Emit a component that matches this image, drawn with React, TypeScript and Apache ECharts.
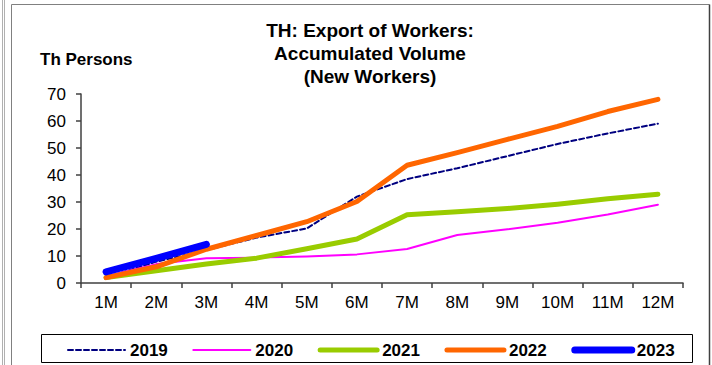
import React, { useEffect, useRef } from "react";
import * as echarts from "echarts";

const categories = ["1M", "2M", "3M", "4M", "5M", "6M", "7M", "8M", "9M", "10M", "11M", "12M"];
const s2019 = [2, 7.9, 12.2, 16.8, 20.2, 32, 38.5, 42.5, 47, 51.5, 55.4, 59];
const s2020 = [2.5, 7, 9.2, 9.4, 9.8, 10.6, 12.6, 17.8, 19.9, 22.3, 25.4, 29];
const s2021 = [2, 4.5, 7, 9.2, 12.7, 16.3, 25.3, 26.4, 27.6, 29.2, 31.2, 32.9];
const s2022 = [2, 6, 12.5, 17.6, 22.7, 30.2, 43.6, 48.3, 53.2, 58, 63.5, 68];
const s2023 = [4.1, 9.1, 14.3];

const FONT = "Liberation Sans, Arial, sans-serif";

export default function App() {
  const ref = useRef<HTMLDivElement>(null);
  useEffect(() => {
    if (!ref.current) return;
    const chart = echarts.init(ref.current, undefined, { renderer: "svg" });
    const mk = (name: string, data: number[], color: string, width: number, type: any = "solid") => ({
      name,
      type: "line",
      data,
      symbol: "none",
      smooth: false,
      lineStyle: { color, width, type, cap: "round", join: "round" },
      itemStyle: { color },
    });
    const lg = (name: string, color: string, width: number, type: any = "solid") => ({
      name,
      itemStyle: { opacity: 0 },
      lineStyle: { color, width, type, cap: "round" },
    });
    chart.setOption({
      animation: false,
      textStyle: { fontFamily: FONT },
      title: {
        text: "TH: Export of Workers:\nAccumulated Volume\n(New Workers)",
        left: 370,
        textAlign: "center",
        top: 19,
        padding: 0,
        textStyle: { fontSize: 19, fontWeight: "bold", color: "#000", lineHeight: 23, fontFamily: FONT },
      },
      grid: { left: 81, right: 29, top: 94, bottom: 82 },
      legend: {
        left: 67,
        top: 341.5,
        padding: 0,
        itemWidth: 57,
        itemHeight: 14,
        itemGap: 24.5,
        itemStyle: { opacity: 0 },
        textStyle: { fontSize: 17, fontWeight: "bold", color: "#000", fontFamily: FONT },
        data: [
          lg("2019", "#000080", 2, [5, 3]),
          lg("2020", "#FF00FF", 2),
          lg("2021", "#99CC00", 5),
          lg("2022", "#FF6600", 5),
          lg("2023", "#0000FF", 7),
        ],
      },
      xAxis: {
        type: "category",
        data: categories,
        boundaryGap: true,
        axisLine: { lineStyle: { color: "#404040", width: 1.5 } },
        axisTick: { show: true, length: 5, inside: false, alignWithLabel: false, lineStyle: { color: "#404040", width: 1.5 } },
        axisLabel: { fontSize: 17, color: "#000", margin: 11, fontFamily: FONT, interval: 0 },
      },
      yAxis: {
        type: "value",
        min: 0,
        max: 70,
        interval: 10,
        name: "Th Persons",
        nameLocation: "end",
        nameGap: 0,
        nameTextStyle: { fontSize: 17, fontWeight: "bold", color: "#000", fontFamily: FONT, align: "left", verticalAlign: "bottom", padding: [0, 0, 26, -41] },
        splitLine: { show: false },
        axisLine: { show: true, lineStyle: { color: "#404040", width: 1.5 } },
        axisTick: { show: true, length: 5, lineStyle: { color: "#404040", width: 1.5 } },
        axisLabel: { fontSize: 17, color: "#000", margin: 15, fontFamily: FONT },
      },
      graphic: [
        { type: "line", shape: { x1: 2.5, y1: 0, x2: 2.5, y2: 365 }, style: { stroke: "#b0b0b0", lineWidth: 1 } },
        { type: "line", shape: { x1: 4.5, y1: 0, x2: 4.5, y2: 365 }, style: { stroke: "#b0b0b0", lineWidth: 1 } },
        { type: "line", shape: { x1: 11.5, y1: 4.5, x2: 11.5, y2: 365 }, style: { stroke: "#808080", lineWidth: 1 } },
        { type: "line", shape: { x1: 11.5, y1: 4.5, x2: 709.5, y2: 4.5 }, style: { stroke: "#808080", lineWidth: 1 } },
        { type: "line", shape: { x1: 709.5, y1: 4.5, x2: 709.5, y2: 365 }, style: { stroke: "#404040", lineWidth: 1.5 } },
        { type: "rect", shape: { x: 41.5, y: 334.5, width: 651, height: 28 }, style: { fill: "none", stroke: "#000", lineWidth: 1 }, z: -1 },
      ],
      series: [
        mk("2019", s2019, "#000080", 2, [5, 3]),
        mk("2020", s2020, "#FF00FF", 2),
        mk("2021", s2021, "#99CC00", 5),
        mk("2022", s2022, "#FF6600", 5),
        mk("2023", s2023, "#0000FF", 7),
      ],
    });
    return () => chart.dispose();
  }, []);
  return (
    <div
      ref={ref}
      style={{ position: "fixed", left: 0, top: 0, width: 712, height: 365, background: "#fff" }}
    />
  );
}
